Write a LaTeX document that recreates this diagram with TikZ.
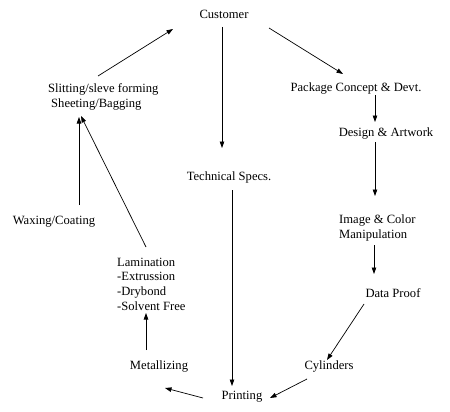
\documentclass[tikz,border=0pt]{standalone}
\usepackage{fontspec}
\setmainfont{Liberation Serif}
\usetikzlibrary{arrows.meta}
\tikzset{
  stage/.style={inner sep=0pt, align=left, font=\fontsize{12.6}{14.6}\selectfont},
  flow/.style={line width=0.7pt, -{Triangle[length=6.5pt,width=4.5pt]}}
}
\begin{document}
\begin{tikzpicture}[x=1pt,y=-1pt]
    \useasboundingbox (0,0) rectangle (450,412);
    \node[stage,anchor=base] (cust) at (224,19) {Customer};
    \node[stage,anchor=base] (tech) at (229,180) {Technical Specs.};
    \node[stage,anchor=base] (pack) at (356,92) {Package Concept \& Devt.};
    \node[stage,anchor=base] (design) at (386,136) {Design \& Artwork};
    \node[stage,anchor=base west] (image) at (339,238) {Image \& Color\\Manipulation};
    \node[stage,anchor=base] (proof) at (393,297) {Data Proof};
    \node[stage,anchor=base] (cyl) at (329,369) {Cylinders};
    \node[stage,anchor=base] (print) at (242,399) {Printing};
    \node[stage,anchor=base] (metal) at (159,369) {Metallizing};
    \node[stage,anchor=base west] (lam) at (117,310) {Lamination\\-Extrussion\\-Drybond\\-Solvent Free};
    \node[stage,anchor=base] (wax) at (54,224) {Waxing/Coating};
    \node[stage,anchor=base west] (slit) at (48,107) {Slitting/sleve forming\\\hspace*{3pt}Sheeting/Bagging};

    \draw[flow] ([xshift=-2pt,yshift=-8pt]cust.base) -- ([xshift=-7pt,yshift=32pt]tech.base);
    \draw[flow] ([xshift=3pt,yshift=-10pt]tech.base) -- ([xshift=-10pt,yshift=13pt]print.base);
    \draw[flow] ([xshift=45pt,yshift=-9pt]cust.base) -- ([xshift=-13pt,yshift=18pt]pack.base);
    \draw[flow] ([xshift=19pt,yshift=-3pt]pack.base) -- ([xshift=-11pt,yshift=14pt]design.base);
    \draw[flow] ([xshift=-11pt,yshift=-6pt]design.base) -- ([xshift=36pt,yshift=42pt]image.base west);
    \draw[flow] ([xshift=35pt,yshift=-7pt]image.base west) -- ([xshift=-19pt,yshift=23pt]proof.base);
    \draw[flow] ([xshift=-29pt,yshift=-7pt]proof.base) -- ([xshift=-2pt,yshift=9pt]cyl.base);
    \draw[flow] ([xshift=-22pt,yshift=-10pt]cyl.base) -- ([xshift=28pt,yshift=1pt]print.base);
    \draw[flow] ([xshift=-39pt,yshift=1pt]print.base) -- ([xshift=6pt,yshift=-19pt]metal.base);
    \draw[flow] ([xshift=-13pt,yshift=19pt]metal.base) -- ([xshift=29pt,yshift=-3pt]lam.base west);
    \draw[flow] ([xshift=29pt,yshift=63pt]lam.base west) -- ([xshift=33pt,yshift=-9pt]slit.base west);
    \draw[flow] ([xshift=25pt,yshift=19pt]wax.base) -- ([xshift=31pt,yshift=-10pt]slit.base west);
    \draw[flow] ([xshift=50pt,yshift=31pt]slit.base west) -- ([xshift=-51pt,yshift=-10pt]cust.base);
\end{tikzpicture}
\end{document}
